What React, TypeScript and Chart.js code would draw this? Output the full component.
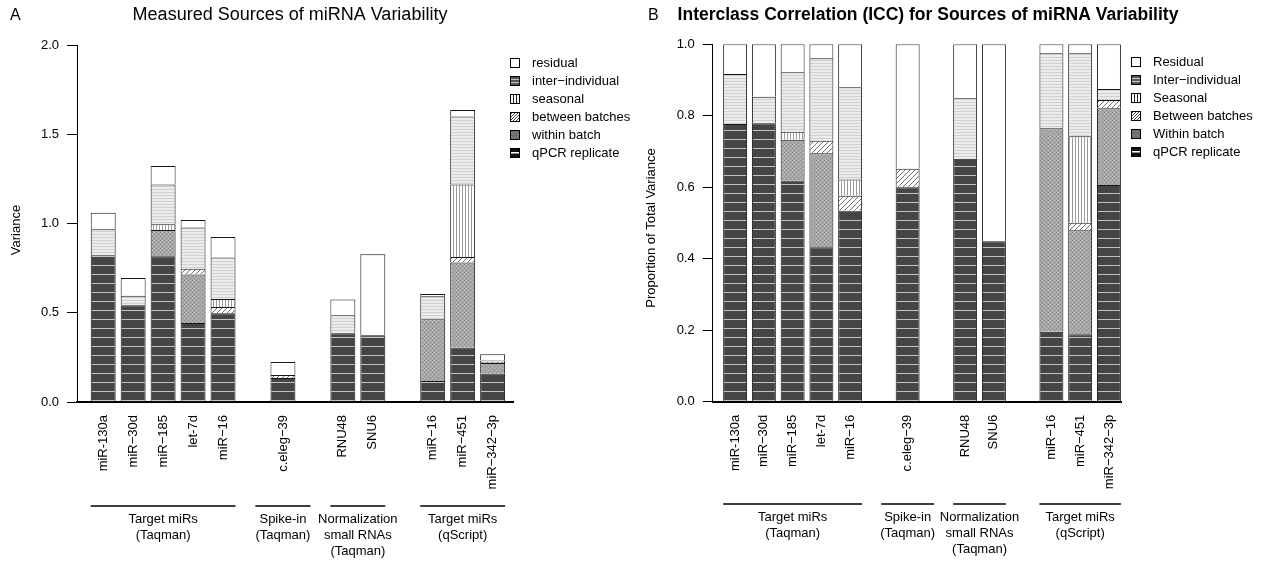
import React, { useEffect, useRef } from "react";
import { Chart, registerables } from "chart.js";

Chart.register(...registerables);

// ---------------- DATA ----------------
const categories = [
  "miR-130a", "miR−30d", "miR−185", "let-7d", "miR−16",
  "c.eleg−39",
  "RNU48", "SNU6",
  "miR−16", "miR−451", "miR−342−3p",
];
const groupSizes = [5, 1, 2, 3];
const groupLabels = [
  ["Target miRs", "(Taqman)"],
  ["Spike-in", "(Taqman)"],
  ["Normalization", "small RNAs", "(Taqman)"],
  ["Target miRs", "(qScript)"],
];

// stack order bottom -> top
const kinds = ["qpcr", "within", "between", "seasonal", "inter", "residual"];
const namesA = ["qPCR replicate", "within batch", "between batches", "seasonal", "inter−individual", "residual"];
const namesB = ["qPCR replicate", "Within batch", "Between batches", "Seasonal", "Inter−individual", "Residual"];

// Panel A: variance
const aQpcr = [0.822, 0.542, 0.817, 0.443, 0.497, 0.135, 0.385, 0.374, 0.118, 0.305, 0.160];
const aWithin = [0, 0, 0.146, 0.271, 0, 0, 0, 0, 0.346, 0.477, 0.058];
const aBetween = [0, 0, 0, 0.032, 0.035, 0.016, 0, 0, 0, 0.031, 0.006];
const aSeasonal = [0, 0, 0.033, 0, 0.045, 0, 0, 0, 0, 0.406, 0];
const aInter = [0.146, 0.053, 0.223, 0.232, 0.232, 0, 0.101, 0, 0.128, 0.380, 0.008];
const aResidual = [0.092, 0.100, 0.103, 0.041, 0.115, 0.073, 0.088, 0.454, 0.013, 0.037, 0.035];

// Panel B: proportion of total variance (ICC)
const bQpcr = [0.777, 0.779, 0.619, 0.432, 0.534, 0.600, 0.680, 0.449, 0.196, 0.189, 0.606];
const bWithin = [0, 0, 0.114, 0.263, 0, 0, 0, 0, 0.569, 0.291, 0.215];
const bBetween = [0, 0, 0, 0.035, 0.042, 0.052, 0, 0, 0, 0.021, 0.023];
const bSeasonal = [0, 0, 0.022, 0, 0.046, 0, 0, 0, 0, 0.242, 0];
const bInter = [0.140, 0.074, 0.167, 0.231, 0.258, 0, 0.169, 0, 0.210, 0.232, 0.031];
const bResidual = [0.083, 0.147, 0.078, 0.039, 0.120, 0.348, 0.151, 0.551, 0.025, 0.025, 0.125];

const yTicksA = [0, 0.5, 1.0, 1.5, 2.0];
const yTicksB = [0, 0.2, 0.4, 0.6, 0.8, 1.0];

// ---------------- LAYOUT ----------------
const H = 565;
const FONT = "'Liberation Sans', Arial, Helvetica, sans-serif";

// bar slot positions: one empty slot between groups
const positions: number[] = [];
{
  let p = 0;
  groupSizes.forEach((n) => {
    for (let i = 0; i < n; i++) positions.push(p++);
    p++;
  });
}

type PanelCfg = {
  left: number; width: number;
  chartLeft: number; chartRight: number; chartTop: number; chartBottom: number;
  xMin: number; xMax: number; yMax: number; yTicks: number[];
  series: number[][]; names: string[];
  letter: string; letterX: number; title: string; titleBold: boolean; titleSize: number; titleX: number;
  yTitle: string; yTitleX: number; yTitleY: number;
  legendBoxX: number; legendTextX: number; legendY0: number;
  groupLineY: number; groupTextY0: number;
};

const panelA: PanelCfg = {
  left: 0, width: 640,
  chartLeft: 77, chartRight: 513, chartTop: 45, chartBottom: 402,
  xMin: -0.875, xMax: 13.68, yMax: 2, yTicks: yTicksA,
  series: [aQpcr, aWithin, aBetween, aSeasonal, aInter, aResidual], names: namesA,
  letter: "A", letterX: 10, title: "Measured Sources of miRNA Variability", titleBold: false, titleSize: 18, titleX: 290,
  yTitle: "Variance", yTitleX: 16, yTitleY: 230,
  legendBoxX: 510, legendTextX: 532, legendY0: 63,
  groupLineY: 506, groupTextY0: 519,
};

const panelB: PanelCfg = {
  left: 640, width: 637,
  chartLeft: 72.7, chartRight: 481, chartTop: 44.3, chartBottom: 401.7,
  xMin: -0.78, xMax: 13.42, yMax: 1, yTicks: yTicksB,
  series: [bQpcr, bWithin, bBetween, bSeasonal, bInter, bResidual], names: namesB,
  letter: "B", letterX: 8, title: "Interclass Correlation (ICC) for Sources of miRNA Variability", titleBold: true, titleSize: 17.5, titleX: 288,
  yTitle: "Proportion of Total Variance", yTitleX: 11, yTitleY: 228,
  legendBoxX: 491, legendTextX: 513, legendY0: 62,
  groupLineY: 504, groupTextY0: 517,
};

// ---------------- STYLES ----------------
function makeFill(kind: string): CanvasPattern | string {
  if (kind === "residual") return "#ffffff";
  const c = document.createElement("canvas");
  const g = c.getContext("2d")!;
  if (kind === "qpcr") {
    c.width = 1; c.height = 9;
    g.fillStyle = "#454545"; g.fillRect(0, 0, 1, 9);
    g.fillStyle = "#c2c2c2"; g.fillRect(0, 4, 1, 1);
  } else if (kind === "within") {
    c.width = 4; c.height = 4;
    g.fillStyle = "#a6a6a6"; g.fillRect(0, 0, 4, 4);
    g.fillStyle = "#8e8e8e"; g.fillRect(0, 0, 1, 1); g.fillRect(2, 2, 1, 1);
    g.fillStyle = "#bcbcbc"; g.fillRect(2, 0, 1, 1); g.fillRect(0, 2, 1, 1);
  } else if (kind === "between") {
    c.width = 5; c.height = 5;
    g.fillStyle = "#ffffff"; g.fillRect(0, 0, 5, 5);
    g.strokeStyle = "#707070"; g.lineWidth = 1;
    g.beginPath();
    g.moveTo(0, 5); g.lineTo(5, 0);
    g.moveTo(-1, 1); g.lineTo(1, -1);
    g.moveTo(4, 6); g.lineTo(6, 4);
    g.stroke();
  } else if (kind === "seasonal") {
    c.width = 3; c.height = 1;
    g.fillStyle = "#ffffff"; g.fillRect(0, 0, 3, 1);
    g.fillStyle = "#9a9a9a"; g.fillRect(0, 0, 1, 1);
  } else if (kind === "inter") {
    c.width = 1; c.height = 3;
    g.fillStyle = "#ececec"; g.fillRect(0, 0, 1, 3);
    g.fillStyle = "#d0d0d0"; g.fillRect(0, 0, 1, 1);
  }
  return g.createPattern(c, "repeat")!;
}

function drawSymbol(ctx: CanvasRenderingContext2D, kind: string, x: number, y: number, s: number) {
  ctx.save();
  ctx.fillStyle = "#fff";
  ctx.fillRect(x, y, s, s);
  if (kind === "inter") {
    ctx.fillStyle = "#555"; ctx.fillRect(x, y, s, s);
    ctx.fillStyle = "#c4c4c4"; ctx.fillRect(x, y + 3, s, 1); ctx.fillRect(x, y + 6, s, 1);
  } else if (kind === "seasonal") {
    ctx.fillStyle = "#222";
    ctx.fillRect(x + 3, y, 1, s); ctx.fillRect(x + 6, y, 1, s);
  } else if (kind === "between") {
    ctx.beginPath(); ctx.rect(x, y, s, s); ctx.clip();
    ctx.strokeStyle = "#444"; ctx.lineWidth = 1;
    ctx.beginPath();
    for (let k = -s; k < 2 * s; k += 3) { ctx.moveTo(x + k, y + s); ctx.lineTo(x + k + s, y); }
    ctx.stroke();
  } else if (kind === "within") {
    ctx.fillStyle = "#6a6a6a"; ctx.fillRect(x, y, s, s);
    ctx.fillStyle = "#888";
    for (let i = 0; i < s; i += 2) for (let j = (i / 2) % 2; j < s; j += 2) ctx.fillRect(x + j, y + i, 1, 1);
  } else if (kind === "qpcr") {
    ctx.fillStyle = "#111"; ctx.fillRect(x, y, s, s);
    ctx.fillStyle = "#fff"; ctx.fillRect(x + 1, y + 4, s - 2, 1.5);
  }
  ctx.restore();
  ctx.save();
  ctx.strokeStyle = "#000"; ctx.lineWidth = 1;
  ctx.strokeRect(x + 0.5, y + 0.5, s - 1, s - 1);
  ctx.restore();
}

function buildConfig(cfg: PanelCfg): any {
  const halfBar = 0.4167;
  const datasets = cfg.series.map((vals, k) => ({
    label: cfg.names[k],
    data: positions.map((p, i) => ({ x: p, y: vals[i] ? vals[i] : null })),
    backgroundColor: makeFill(kinds[k]),
    borderColor: "#161616",
    borderWidth: 1,
    borderSkipped: "bottom",
    categoryPercentage: 1,
    barPercentage: 0.833,
  }));

  const extras = {
    id: "extras",
    afterDraw(chart: any) {
      const ctx: CanvasRenderingContext2D = chart.ctx;
      const xs = chart.scales.x;
      ctx.save();
      ctx.fillStyle = "#000";
      // panel letter
      ctx.font = `16px ${FONT}`;
      ctx.textAlign = "left"; ctx.textBaseline = "middle";
      ctx.fillText(cfg.letter, cfg.letterX, 16);
      // title
      ctx.font = `${cfg.titleBold ? "bold " : ""}${cfg.titleSize}px ${FONT}`;
      ctx.textAlign = "center";
      ctx.fillText(cfg.title, cfg.titleX, 15);
      // y title
      ctx.save();
      ctx.translate(cfg.yTitleX, cfg.yTitleY);
      ctx.rotate(-Math.PI / 2);
      ctx.font = `13px ${FONT}`;
      ctx.textAlign = "center"; ctx.textBaseline = "middle";
      ctx.fillText(cfg.yTitle, 0, 0);
      ctx.restore();
      // group lines and labels
      let idx = 0;
      groupSizes.forEach((n, g) => {
        const first = positions[idx];
        const last = positions[idx + n - 1];
        idx += n;
        const ext = n === 1 ? 0.92 : halfBar;
        const l = xs.getPixelForValue(first - ext);
        const r = xs.getPixelForValue(last + ext);
        ctx.strokeStyle = "#000"; ctx.lineWidth = 1.6;
        ctx.beginPath(); ctx.moveTo(l, cfg.groupLineY); ctx.lineTo(r, cfg.groupLineY); ctx.stroke();
        ctx.font = `13px ${FONT}`;
        ctx.textAlign = "center"; ctx.textBaseline = "middle";
        groupLabels[g].forEach((t, j) => ctx.fillText(t, (l + r) / 2, cfg.groupTextY0 + j * 16));
      });
      // legend
      ctx.font = `13px ${FONT}`;
      ctx.textAlign = "left"; ctx.textBaseline = "middle";
      for (let row = 0; row < kinds.length; row++) {
        const k = kinds.length - 1 - row;
        const y = cfg.legendY0 + row * 18;
        drawSymbol(ctx, kinds[k], cfg.legendBoxX, Math.round(y - 5), 10);
        ctx.fillStyle = "#000";
        ctx.fillText(cfg.names[k], cfg.legendTextX, y);
      }
      ctx.restore();
    },
  };

  return {
    type: "bar",
    data: { datasets },
    options: {
      responsive: false,
      maintainAspectRatio: false,
      animation: false,
      layout: { padding: { left: 0, top: cfg.chartTop, right: cfg.width - cfg.chartRight, bottom: 0 } },
      plugins: { legend: { display: false }, tooltip: { enabled: false }, title: { display: false } },
      scales: {
        x: {
          type: "linear",
          stacked: true,
          offset: false,
          min: cfg.xMin,
          max: cfg.xMax,
          afterBuildTicks: (s: any) => { s.ticks = positions.map((v) => ({ value: v })); },
          afterFit: (s: any) => { s.height = H - cfg.chartBottom; },
          grid: { display: false, drawTicks: false, offset: false },
          border: { display: true, color: "#000", width: 2 },
          ticks: {
            autoSkip: false,
            minRotation: 90,
            maxRotation: 90,
            padding: 13,
            color: "#000",
            font: { family: FONT, size: 13 },
            callback: (_v: any, i: number) => categories[i],
          },
        },
        y: {
          stacked: true,
          min: 0,
          max: cfg.yMax,
          afterBuildTicks: (s: any) => { s.ticks = cfg.yTicks.map((v) => ({ value: v })); },
          afterFit: (s: any) => { s.width = cfg.chartLeft; },
          grid: { drawOnChartArea: false, drawTicks: true, tickLength: 10, color: "#000", lineWidth: 1 },
          border: { display: true, color: "#000", width: 1 },
          ticks: {
            padding: 8,
            color: "#000",
            font: { family: FONT, size: 13 },
            callback: (v: any) => Number(v).toFixed(1),
          },
        },
      },
    },
    plugins: [extras],
  };
}

function Panel({ cfg }: { cfg: PanelCfg }) {
  const ref = useRef<HTMLCanvasElement>(null);
  useEffect(() => {
    const chart = new Chart(ref.current!, buildConfig(cfg));
    return () => chart.destroy();
  }, []);
  return (
    <canvas
      ref={ref}
      width={cfg.width}
      height={H}
      style={{ position: "absolute", left: cfg.left, top: 0, width: cfg.width, height: H }}
    />
  );
}

export default function App() {
  return (
    <div style={{ position: "fixed", left: 0, top: 0, width: 1277, height: H, background: "#fff" }}>
      <Panel cfg={panelA} />
      <Panel cfg={panelB} />
    </div>
  );
}
